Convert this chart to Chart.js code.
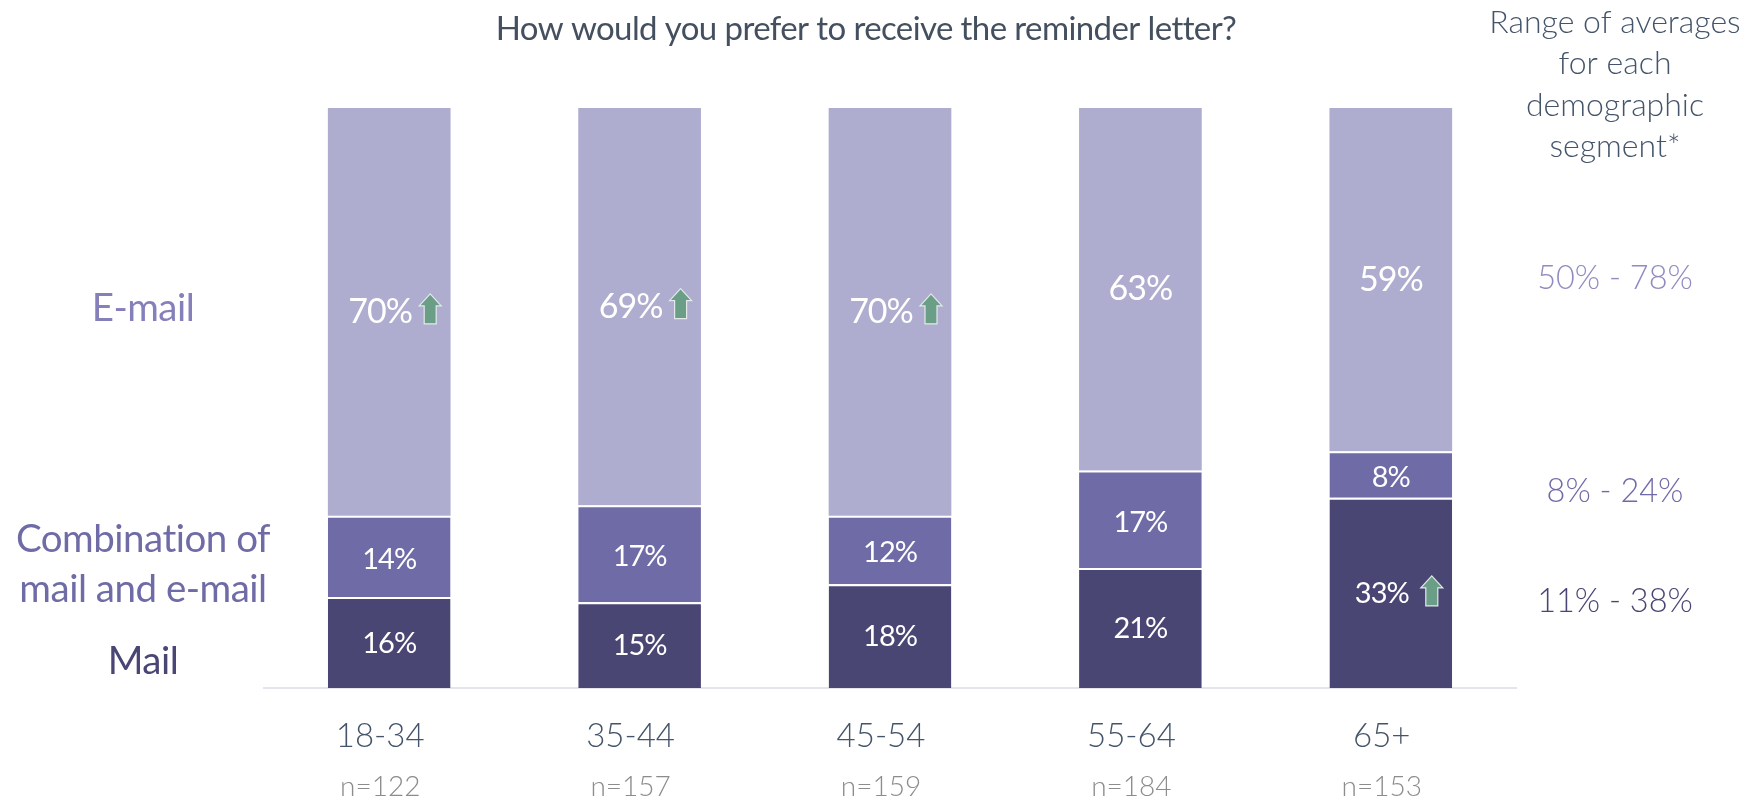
<!DOCTYPE html>
<html><head><meta charset="utf-8">
<style>html,body{margin:0;padding:0;background:#fff}#w{width:1762px;height:800px;position:relative}canvas{display:block}</style>
<script src="https://cdn.jsdelivr.net/npm/chart.js@4/dist/chart.umd.min.js"></script>
</head><body><div id="w"><canvas id="c" width="1762" height="800"></canvas></div>
<script>
const categories = ['18-34','35-44','45-54','55-64','65+'];
const sampleSizes = ['n=122','n=157','n=159','n=184','n=153'];
const mail = [15.7,14.8,17.9,20.7,32.8];
const combination = [14.0,16.7,11.8,16.8,8.0];
const email = [70.3,68.5,70.3,62.5,59.2];
const mailArrows = [false,false,false,false,true];
const combinationArrows = [false,false,false,false,false];
const emailArrows = [true,true,true,false,false];
const seriesNames = ['Mail','Combination of mail and e-mail','E-mail'];
const ranges = ['11% - 38%','8% - 24%','50% - 78%'];
const titleText = 'How would you prefer to receive the reminder letter?';
const rangeHeader = ['Range of averages','for each','demographic','segment*'];

const C_MAIL='#4A4674',C_COMB='#6F6BA6',C_EMAIL='#AFADCF';
const FONT='Lato';
const fnt=(s,w=300)=>`${w} ${s}px ${FONT}, "Open Sans", sans-serif`;

function arrow(ctx,cx,cy){
  const w=11,h=15,sw=6,hh=12;
  ctx.beginPath();
  ctx.moveTo(cx,cy-h);ctx.lineTo(cx+w,cy-h+hh);ctx.lineTo(cx+sw,cy-h+hh);
  ctx.lineTo(cx+sw,cy+h);ctx.lineTo(cx-sw,cy+h);ctx.lineTo(cx-sw,cy-h+hh);
  ctx.lineTo(cx-w,cy-h+hh);ctx.closePath();
  ctx.fillStyle='#6A9E87';ctx.fill();
  ctx.lineWidth=1.2;ctx.strokeStyle='#E3E8EA';ctx.stroke();
}
function text(ctx,s,x,y,font,color,sp){
  ctx.font=font;ctx.fillStyle=color;ctx.textAlign='center';ctx.textBaseline='middle';
  ctx.letterSpacing=(sp||0)+'px';ctx.fillText(s,x,y);ctx.letterSpacing='0px';
}
const segLabels={id:'segLabels',afterDatasetsDraw(chart){
  const ctx=chart.ctx;ctx.save();
  const sizes=[29,29,34],flags=[mailArrows,combinationArrows,emailArrows],dy=[1,3,0];
  chart.data.datasets.forEach((ds,di)=>{
    chart.getDatasetMeta(di).data.forEach((bar,i)=>{
      const lab=Math.round(ds.data[i])+'%';
      const y=(bar.y+bar.base)/2+dy[di];
      const a=flags[di][i];
      text(ctx,lab,bar.x-(a?9:0),y,fnt(sizes[di],400),'#fff',-1);
      if(a)arrow(ctx,bar.x+41,y-3);
    });
  });
  ctx.restore();
}};
const annotations={id:'annotations',afterDraw(chart){
  const ctx=chart.ctx;ctx.save();
  text(ctx,titleText,866,29,fnt(33,400),'#44505F',-0.6);
  rangeHeader.forEach((l,i)=>text(ctx,l,1615,[23,64,105.5,147][i],fnt(32),'#44546A',0));
  text(ctx,ranges[2],1615,279,fnt(32.5),'#8F8CC0',0);
  text(ctx,ranges[1],1615,492,fnt(32.5),C_COMB,0);
  text(ctx,ranges[0],1615,602,fnt(32.5),C_MAIL,0);
  text(ctx,seriesNames[2],143,309,fnt(38.5,400),'#8580B9',-0.5);
  text(ctx,'Combination of',143,540,fnt(38.5,400),C_COMB,-0.5);
  text(ctx,'mail and e-mail',143,590,fnt(38.5,400),C_COMB,-0.5);
  text(ctx,seriesNames[0],143,662,fnt(38.5,400),C_MAIL,-0.5);
  ctx.restore();
}};
const sep=()=>({top:2,left:0,right:0,bottom:0});
new Chart(document.getElementById('c'),{
  type:'bar',
  data:{labels:categories,datasets:[
    {label:seriesNames[0],data:mail,backgroundColor:C_MAIL,borderColor:'#fff',borderWidth:sep(),borderSkipped:false},
    {label:seriesNames[1],data:combination,backgroundColor:C_COMB,borderColor:'#fff',borderWidth:sep(),borderSkipped:false},
    {label:seriesNames[2],data:email,backgroundColor:C_EMAIL,borderWidth:0}
  ]},
  options:{
    responsive:false,animation:false,
    layout:{padding:{left:264,right:246,top:108,bottom:0}},
    datasets:{bar:{barPercentage:0.49,categoryPercentage:1}},
    plugins:{legend:{display:false},tooltip:{enabled:false},title:{display:false}},
    scales:{
      y:{stacked:true,min:0,max:100,display:false},
      x:{stacked:true,position:'bottom',
        grid:{display:false,drawTicks:false},
        border:{color:'#E4E4EC',width:2},
        ticks:{padding:29,labelOffset:-9,color:'#44546A',font:{family:FONT,size:33,weight:'300'},maxRotation:0},
        afterFit(s){s.height=66}},
      n:{type:'category',labels:sampleSizes,position:'bottom',offset:true,
        grid:{display:false,drawTicks:false},border:{display:false},
        ticks:{padding:16,labelOffset:-9,color:'#8C8C8C',font:{family:FONT,size:28,weight:'300'},maxRotation:0},
        afterFit(s){s.height=46}}
    }
  },
  plugins:[segLabels,annotations]
});
</script></body></html>
